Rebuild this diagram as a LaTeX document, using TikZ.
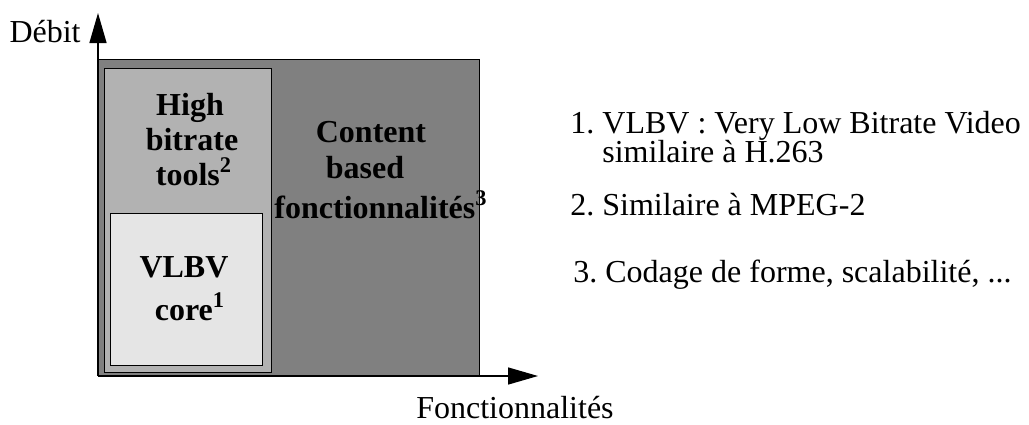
\documentclass[tikz,border=0pt]{standalone}
\usepackage{fontspec}
\setmainfont{Liberation Serif}
\usetikzlibrary{arrows.meta}
\frenchspacing
\begin{document}
\begin{tikzpicture}[x=0.5pt,y=-0.5pt,
  txt/.style={inner sep=0pt,font=\fontsize{16}{19}\selectfont},
  btxt/.style={txt,font=\fontsize{16}{19}\selectfont\bfseries},
  area/.style={draw=black,line width=0.55pt},
  axis/.style={line width=0.7pt,-{Triangle[length=15pt,width=8.5pt]}}]
\useasboundingbox (0,0) rectangle (1029,424);

% nested regions
\node[area,fill=black!50,minimum width=381*0.5pt,minimum height=317*0.5pt,anchor=north west,inner sep=0pt] (content) at (98,59) {};
\node[area,fill=black!30,minimum width=167*0.5pt,minimum height=304*0.5pt,anchor=north west,inner sep=0pt] (high) at (104,68) {};
\node[area,fill=black!10,minimum width=152*0.5pt,minimum height=152*0.5pt,anchor=north west,inner sep=0pt] (core) at (110,213) {};

% axes
\coordinate (o) at (98,376);
\coordinate (ytip) at (98,13);
\coordinate (xtip) at (538,376);
\draw[axis] (o) -- (ytip);
\draw[axis] (o) -- (xtip);
\node[txt,anchor=base east] (ylab) at (81,42) {Débit};
\node[txt,anchor=base] (xlab) at (515,418) {Fonctionnalités};

% labels of the regions
\node[btxt,anchor=base] (h1) at (190,115) {High};
\node[btxt,anchor=base] (h2) at (192,150) {bitrate};
\node[btxt,anchor=base] (h3) at (194,185) {tools\textsuperscript{2}};
\node[btxt,anchor=base] (c1) at (184,277) {VLBV};
\node[btxt,anchor=base] (c2) at (190,320) {core\textsuperscript{1}};
\node[btxt,anchor=base] (f1) at (371,142) {Content};
\node[btxt,anchor=base] (f2) at (365,178) {based};
\node[btxt,anchor=base] (f3) at (381,218) {fonctionnalités\textsuperscript{3}};

% notes
\node[txt,anchor=base west] (n1) at (570,133) {1. VLBV : Very Low Bitrate Video};
\node[txt,anchor=base west] (n1b) at (602,162) {similaire à H.263};
\node[txt,anchor=base west] (n2) at (570,215) {2. Similaire à MPEG-2};
\node[txt,anchor=base west] (n3) at (573,282) {3. Codage de forme, scalabilité, ...};
\end{tikzpicture}
\end{document}
